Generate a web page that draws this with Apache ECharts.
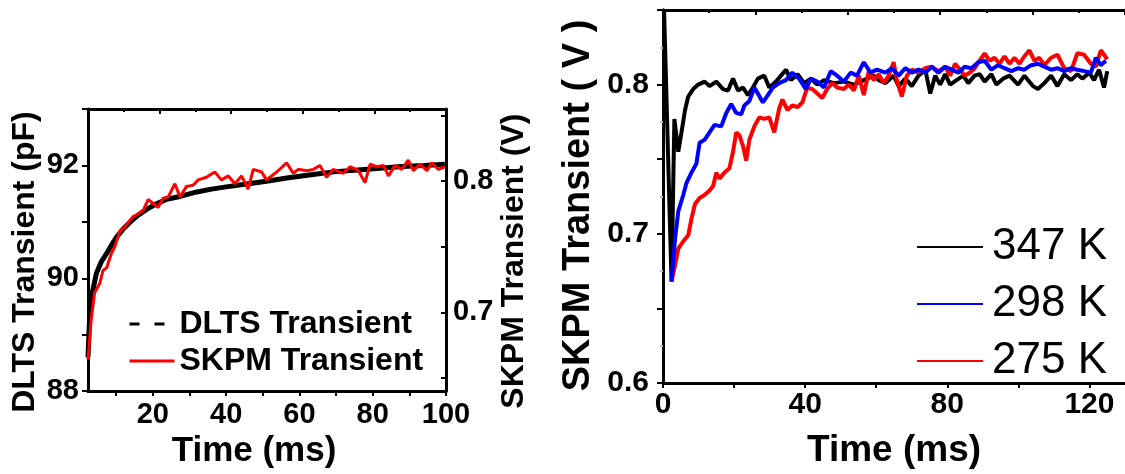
<!DOCTYPE html>
<html><head><meta charset="utf-8">
<script src="https://cdn.jsdelivr.net/npm/echarts@6/dist/echarts.min.js"></script>
<style>html,body{margin:0;padding:0;background:#fff}#c{width:1125px;height:474px}</style>
</head><body><div id="c"></div>
<script>
// ---- Left panel: DLTS (pF, left axis) and SKPM (V, right axis) ----
const dltsTime = [2.3, 2.8, 3.5, 4.6, 6, 7.4, 9, 10.1, 12, 13.7, 16, 18.3, 21, 23.8, 27.4, 32, 36, 40, 45.6, 51, 57, 63.7, 70, 76, 82, 88, 94, 99.7];
const dltsCap = [88.6, 89.4, 89.75, 90.09, 90.3, 90.44, 90.62, 90.73, 90.88, 90.99, 91.12, 91.22, 91.32, 91.40, 91.45, 91.53, 91.58, 91.62, 91.67, 91.72, 91.78, 91.84, 91.89, 91.92, 91.95, 91.98, 92.0, 92.02];
const skpmTime = [2.3,3.2,4.1,5.5,6.4,7.4,8.7,9.6,11.0,12.3,13.7,14.6,16.0,17.4,18.7,20.1,21.4,22.8,24.2,26.0,27.4,29.2,31.0,32.4,34.6,36.9,38.7,40.6,42.4,44.2,46.0,47.4,49.7,51.0,53.8,56.5,58.3,59.7,62.0,63.8,65.6,67.4,69.2,72.0,73.8,76.1,77.9,79.3,81.1,82.9,84.3,86.1,87.9,89.7,91.1,92.9,94.8,96.1,97.9,99.7];
const skpmVolt = [0.664,0.695,0.715,0.722,0.732,0.734,0.745,0.750,0.762,0.765,0.770,0.773,0.775,0.778,0.786,0.783,0.780,0.787,0.788,0.798,0.788,0.796,0.797,0.801,0.803,0.807,0.801,0.804,0.798,0.804,0.794,0.809,0.807,0.801,0.807,0.814,0.806,0.809,0.808,0.809,0.812,0.803,0.809,0.806,0.811,0.808,0.799,0.813,0.811,0.812,0.804,0.812,0.809,0.816,0.808,0.813,0.808,0.814,0.809,0.811];
const leftXTicks = [10,20,30,40,50,60,70,80,90,100];
const leftXLabels = [20,40,60,80,100];
const leftV_Ticks = [0.65,0.7,0.75,0.8,0.85];
const leftV_Labels = [0.7,0.8];

// ---- Right panel: SKPM transients at three temperatures ----
const t347 = [0.3,2.4,3.2,4.3,5.2,6.2,7.1,8.5,9.9,11.7,13.1,15.0,16.9,18.3,19.7,21.1,22.5,23.9,25.3,26.7,28.5,29.9,31.8,33.2,34.6,36.0,37.9,39.7,41.6,43.4,45.3,48.1,50.9,53.7,56.5,59.3,60.7,62.6,64.9,66.3,68.2,70.0,71.9,73.8,75.2,76.6,78.0,79.4,80.8,82.6,84.5,85.9,87.7,89.1,90.5,92.4,93.8,95.7,97.5,99.9,101.7,104.1,105.5,107.3,109.2,111.0,112.9,114.8,116.6,118.0,119.9,121.3,122.7,124.1,125.0];
const v347 = [0.85,0.668,0.777,0.755,0.768,0.783,0.792,0.797,0.800,0.802,0.799,0.802,0.797,0.796,0.804,0.796,0.798,0.793,0.798,0.804,0.806,0.798,0.802,0.806,0.810,0.803,0.807,0.801,0.804,0.800,0.803,0.801,0.802,0.800,0.803,0.806,0.803,0.801,0.806,0.799,0.804,0.799,0.806,0.810,0.794,0.806,0.800,0.807,0.800,0.803,0.806,0.801,0.806,0.807,0.802,0.807,0.800,0.804,0.806,0.800,0.806,0.799,0.797,0.801,0.806,0.799,0.807,0.803,0.807,0.804,0.808,0.803,0.810,0.798,0.809];
const t298 = [2.4,3.4,4.3,5.7,6.6,8.0,9.4,10.3,11.7,13.1,14.5,16.4,17.8,19.2,20.6,22.0,22.9,24.3,25.7,26.7,28.1,29.5,30.9,32.7,34.6,36.4,38.3,40.2,41.6,43.4,45.3,47.2,49.0,50.9,52.8,54.6,56.5,58.4,60.2,62.6,64.4,66.3,68.2,70.0,71.9,73.8,75.6,77.5,79.4,81.2,83.1,84.9,86.8,88.7,90.5,92.4,94.3,96.1,98.0,99.9,101.7,103.6,105.5,107.3,109.2,111.0,112.9,114.8,116.6,118.5,120.4,121.8,123.2,124.6];
const v298 = [0.668,0.697,0.715,0.726,0.734,0.741,0.747,0.761,0.763,0.768,0.773,0.772,0.781,0.787,0.781,0.780,0.786,0.789,0.798,0.794,0.788,0.793,0.798,0.801,0.803,0.808,0.804,0.797,0.804,0.802,0.798,0.809,0.806,0.802,0.808,0.806,0.815,0.808,0.810,0.808,0.811,0.806,0.811,0.808,0.810,0.808,0.812,0.808,0.812,0.810,0.808,0.812,0.811,0.815,0.816,0.810,0.813,0.811,0.809,0.811,0.810,0.813,0.814,0.812,0.810,0.811,0.809,0.811,0.810,0.809,0.808,0.818,0.813,0.816];
const t275 = [2.4,3.4,4.3,5.7,7.1,8.0,9.0,10.3,11.7,13.1,14.1,15.0,15.9,17.3,18.7,19.7,20.6,21.5,22.5,23.4,24.3,25.7,27.1,28.5,29.9,31.3,32.7,33.6,35.0,36.4,37.9,39.2,40.6,42.0,43.4,44.8,46.2,47.6,49.0,50.9,52.3,53.7,55.1,56.5,57.9,59.3,60.7,62.1,63.5,64.9,65.8,67.2,68.6,70.0,71.9,73.8,75.6,77.5,79.4,80.8,82.2,83.6,84.9,86.3,87.7,89.1,90.5,91.9,93.3,94.7,96.1,97.5,98.9,100.3,101.7,103.1,104.5,105.9,107.3,109.2,111.0,112.9,114.8,116.6,118.5,120.4,121.8,123.2,125.0];
const v275 = [0.668,0.679,0.690,0.695,0.699,0.710,0.720,0.724,0.726,0.729,0.732,0.741,0.737,0.741,0.744,0.755,0.768,0.766,0.759,0.749,0.763,0.772,0.778,0.777,0.778,0.768,0.784,0.790,0.783,0.786,0.785,0.788,0.798,0.797,0.794,0.791,0.797,0.801,0.798,0.797,0.800,0.796,0.806,0.793,0.809,0.803,0.807,0.801,0.806,0.815,0.803,0.792,0.806,0.810,0.808,0.811,0.812,0.809,0.812,0.806,0.814,0.810,0.806,0.808,0.811,0.816,0.821,0.816,0.818,0.814,0.819,0.814,0.818,0.814,0.819,0.823,0.816,0.818,0.813,0.818,0.820,0.811,0.809,0.821,0.820,0.814,0.812,0.823,0.817];
const rightXLabels = [0,40,80,120];
const rightYLabels = [0.6,0.7,0.8];

const pairs = (a, b) => a.map((x, i) => [x, b[i]]);
const FF = '"Liberation Sans", Arial, sans-serif';
const lineAx = {show: true, lineStyle: {color: '#000', width: 3}};
const noSym = {opacity: 0};

const chart = echarts.init(document.getElementById('c'), null, {renderer: 'canvas'});
chart.setOption({
  animation: false,
  backgroundColor: '#fff',
  textStyle: {fontFamily: FF},
  grid: [
    {left: 88, top: 109, width: 358, height: 288},
    {left: 663, top: 10, width: 464, height: 376}
  ],
  xAxis: [
    {type: 'value', gridIndex: 0, position: 'bottom', min: 2.3, max: 100,
     axisLine: lineAx, splitLine: {show: false},
     axisTick: {show: true, inside: false, length: 5, lineStyle: {width: 2, color: '#000'}, customValues: leftXTicks},
     axisLabel: {customValues: leftXLabels, color: '#000', fontWeight: 'bold', fontSize: 29, fontFamily: FF, margin: 9},
     name: 'Time (ms)', nameLocation: 'middle', nameGap: 38,
     nameTextStyle: {color: '#000', fontWeight: 'bold', fontSize: 35, fontFamily: FF, padding: [0, 26, 0, 0]}},
    {type: 'value', gridIndex: 0, position: 'top', min: 0, max: 10, interval: 2,
     axisLine: lineAx, splitLine: {show: false}, axisLabel: {show: false},
     axisTick: {show: true, inside: true, length: 5, lineStyle: {width: 2, color: '#000'}},
     minorTick: {show: true, splitNumber: 2, length: 3, lineStyle: {width: 2, color: '#000'}}},
    {type: 'value', gridIndex: 1, position: 'bottom', min: 0, max: 130, interval: 20,
     axisLine: lineAx, splitLine: {show: false},
     axisTick: {show: true, inside: false, length: 5, lineStyle: {width: 2, color: '#000'}},
     axisLabel: {color: '#000', fontWeight: 'bold', fontSize: 30, fontFamily: FF, margin: 7, showMaxLabel: false,
       formatter: v => rightXLabels.indexOf(v) >= 0 ? String(v) : ''},
     name: 'Time (ms)', nameLocation: 'middle', nameGap: 49,
     nameTextStyle: {color: '#000', fontWeight: 'bold', fontSize: 37, fontFamily: FF}},
    {type: 'value', gridIndex: 1, position: 'top', min: 0, max: 10, interval: 2,
     axisLine: lineAx, splitLine: {show: false}, axisLabel: {show: false},
     axisTick: {show: true, inside: true, length: 5, lineStyle: {width: 2, color: '#000'}},
     minorTick: {show: true, splitNumber: 2, length: 3, lineStyle: {width: 2, color: '#000'}}}
  ],
  yAxis: [
    {type: 'value', gridIndex: 0, position: 'left', min: 88, max: 93, interval: 1,
     axisLine: lineAx, splitLine: {show: false},
     axisTick: {show: true, inside: false, length: 6, lineStyle: {width: 2, color: '#000'}},
     axisLabel: {color: '#000', fontWeight: 'bold', fontSize: 29, fontFamily: FF, margin: 9,
       formatter: v => (v % 2 === 0 && v < 93) ? String(v) : ''},
     name: 'DLTS Transient (pF)', nameLocation: 'middle', nameRotate: 90, nameGap: 47,
     nameTextStyle: {color: '#000', fontWeight: 'bold', fontSize: 32, fontFamily: FF, padding: [0, 24, 0, 0]}},
    {type: 'value', gridIndex: 0, position: 'right', min: 0.64, max: 0.855,
     axisLine: lineAx, splitLine: {show: false},
     axisTick: {show: true, inside: true, length: 5, lineStyle: {width: 2, color: '#000'}, customValues: leftV_Ticks},
     axisLabel: {customValues: leftV_Labels, color: '#000', fontWeight: 'bold', fontSize: 29, fontFamily: FF, margin: 7,
       formatter: v => v.toFixed(1)},
     name: 'SKPM Transient (V)', nameLocation: 'middle', nameRotate: 90, nameGap: 52,
     nameTextStyle: {color: '#000', fontWeight: 'bold', fontSize: 32, fontFamily: FF, padding: [0, 22, 0, 0]}},
    {type: 'value', gridIndex: 1, position: 'left', min: 0.6, max: 0.85, interval: 0.05,
     axisLine: lineAx, splitLine: {show: false},
     axisTick: {show: true, inside: false, length: 5, lineStyle: {width: 2, color: '#000'}},
     axisLabel: {color: '#000', fontWeight: 'bold', fontSize: 30, fontFamily: FF, margin: 14,
       formatter: v => rightYLabels.some(r => Math.abs(r - v) < 1e-6) ? v.toFixed(1) : ''},
     name: 'SKPM Transient ( V )', nameLocation: 'middle', nameRotate: 90, nameGap: 65,
     nameTextStyle: {color: '#000', fontWeight: 'bold', fontSize: 38, fontFamily: FF, padding: [0, 18, 0, 0]}},
    {type: 'value', gridIndex: 1, position: 'right', min: 0.6, max: 0.85, interval: 0.05,
     axisLine: lineAx, splitLine: {show: false}, axisLabel: {show: false},
     axisTick: {show: true, inside: true, length: 6, lineStyle: {width: 2, color: '#000'}},
     minorTick: {show: true, splitNumber: 2, length: 3, lineStyle: {width: 2, color: '#bbb'}}}
  ],
  legend: [
    {orient: 'vertical', left: 123, top: 303, itemWidth: 45, itemHeight: 14, itemGap: 5,
     itemStyle: noSym,
     textStyle: {color: '#000', fontWeight: 'bold', fontSize: 32, fontFamily: FF, lineHeight: 32},
     data: [
       {name: 'DLTS Transient', itemStyle: noSym, lineStyle: {type: [10, 15], width: 3, color: '#000'}},
       {name: 'SKPM Transient', itemStyle: noSym, lineStyle: {width: 3, color: '#ff0000'}}
     ]},
    {orient: 'vertical', left: 911, top: 220, itemWidth: 66, itemHeight: 14, itemGap: 13,
     itemStyle: noSym,
     textStyle: {color: '#000', fontSize: 44, fontFamily: FF, lineHeight: 44, padding: [0, 0, 0, 4]},
     data: [
       {name: '347 K', itemStyle: noSym},
       {name: '298 K', itemStyle: noSym},
       {name: '275 K', itemStyle: noSym}
     ]}
  ],
  series: [
    {name: 'DLTS Transient', type: 'line', xAxisIndex: 0, yAxisIndex: 0, symbol: 'none',
     data: pairs(dltsTime, dltsCap), lineStyle: {color: '#000', width: 5}, itemStyle: {color: '#000'}},
    {name: 'SKPM Transient', type: 'line', xAxisIndex: 0, yAxisIndex: 1, symbol: 'none',
     data: pairs(skpmTime, skpmVolt), lineStyle: {color: '#ff0000', width: 3}, itemStyle: {color: '#ff0000'}},
    {name: '347 K', type: 'line', xAxisIndex: 2, yAxisIndex: 2, symbol: 'none',
     data: pairs(t347, v347), lineStyle: {color: '#000', width: 4}, itemStyle: {color: '#000'}},
    {name: '275 K', type: 'line', xAxisIndex: 2, yAxisIndex: 2, symbol: 'none',
     data: pairs(t275, v275), lineStyle: {color: '#ff0000', width: 4}, itemStyle: {color: '#ff0000'}},
    {name: '298 K', type: 'line', xAxisIndex: 2, yAxisIndex: 2, symbol: 'none',
     data: pairs(t298, v298), lineStyle: {color: '#0000ff', width: 4}, itemStyle: {color: '#0000ff'}}
  ]
});
</script></body></html>
